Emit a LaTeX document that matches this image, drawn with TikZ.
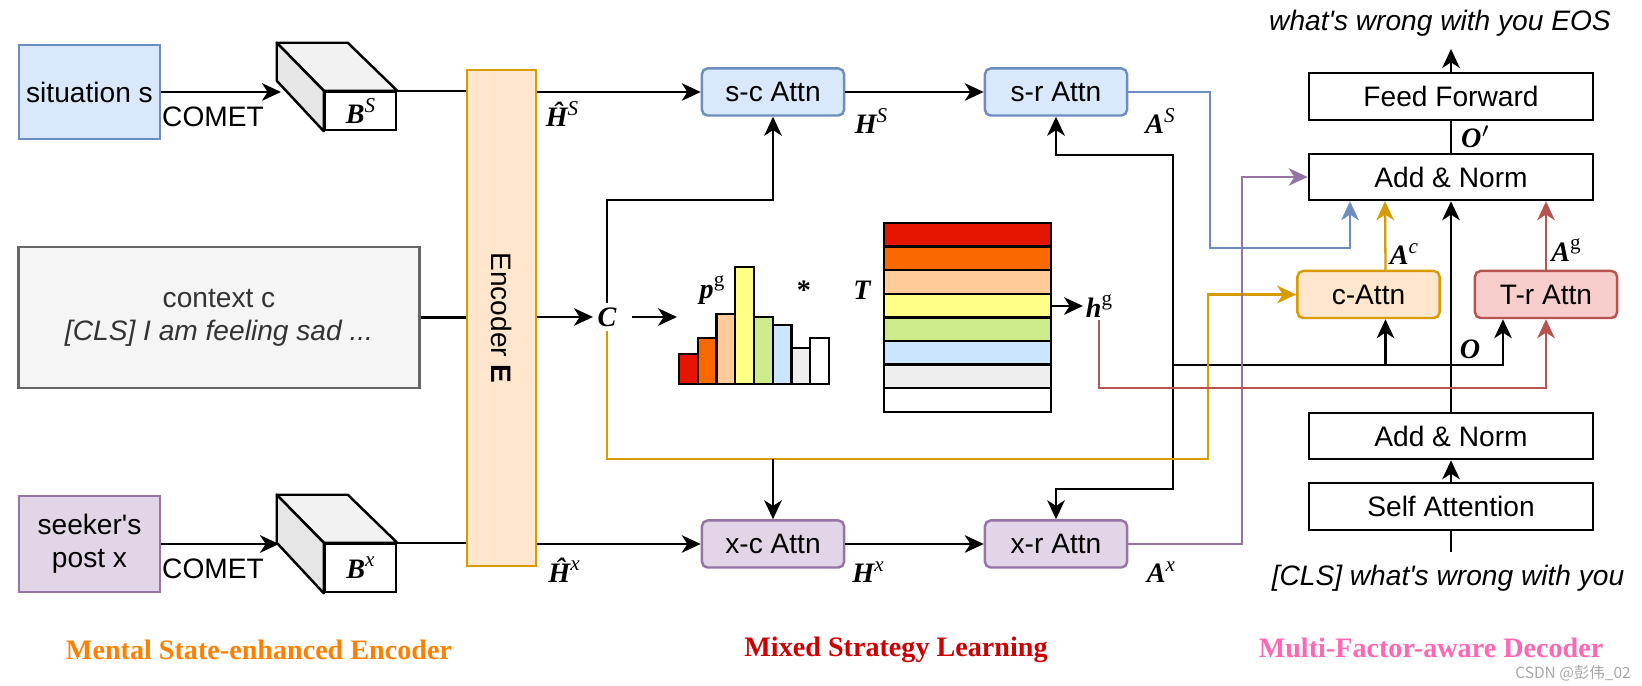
\documentclass[tikz,border=0pt]{standalone}
\usepackage{fontspec}
\setmainfont{Liberation Sans}
\newfontfamily\tnr{Liberation Serif}
\newfontfamily\cjk{Noto Sans CJK SC}
\usetikzlibrary{arrows.meta,calc}

\definecolor{bluF}{HTML}{DAE8FC}
\definecolor{bluD}{HTML}{6C8EBF}
\definecolor{purF}{HTML}{E1D5E7}
\definecolor{purD}{HTML}{9673A6}
\definecolor{orgF}{HTML}{FFE6CC}
\definecolor{orgD}{HTML}{D79B00}
\definecolor{redF}{HTML}{F8CECC}
\definecolor{redD}{HTML}{B85450}
\definecolor{gryF}{HTML}{F5F5F5}
\definecolor{gryD}{HTML}{666666}
\definecolor{gryT}{HTML}{333333}
\definecolor{cubT}{HTML}{F2F2F2}
\definecolor{cubL}{HTML}{E6E6E6}
\definecolor{stR}{HTML}{E51400}
\definecolor{stO}{HTML}{FA6800}
\definecolor{stP}{HTML}{FFCC99}
\definecolor{stY}{HTML}{FFFF88}
\definecolor{stG}{HTML}{CDEB8B}
\definecolor{stB}{HTML}{CCE5FF}
\definecolor{stW}{HTML}{EEEEEE}
\definecolor{ttlO}{HTML}{FF8000}
\definecolor{ttlR}{HTML}{CC0000}
\definecolor{ttlP}{HTML}{FF66B3}

% bold italic symbol with a superscript
\newcommand{\vlab}[2]{{\tnr\bfseries\itshape #1}{\tnr\itshape\raisebox{0.9ex}{\fontsize{6}{6}\selectfont #2}}}

\begin{document}
\begin{tikzpicture}[x=0.01cm,y=-0.01cm,line width=0.65pt,
  every node/.style={font=\fontsize{8}{9.4}\selectfont},
  >={Stealth[length=5.4pt,width=5pt,inset=1.6pt]},
  box/.style={draw,line width=0.7pt,inner sep=0pt,align=center},
  attn/.style={box,rounded corners=1.6pt,minimum width=1.42cm,minimum height=0.47cm},
  dec/.style={box,minimum width=2.84cm,minimum height=0.47cm},
  lbl/.style={inner sep=1pt}]

\useasboundingbox (0,0) rectangle (1642,686);

% inputs
\node[box,fill=bluF,draw=bluD,minimum width=1.41cm,minimum height=0.94cm] (sit) at (89.5,92) {situation s};
\node[box,fill=gryF,draw=gryD,text=gryT,minimum width=4.01cm,minimum height=1.41cm] (ctx) at (219,317.5) {context c\\\textit{[CLS] I am feeling sad ...}};
\node[box,fill=purF,draw=purD,minimum width=1.41cm,minimum height=0.96cm] (skr) at (89.5,544) {seeker\textquotesingle s\\post x};

% COMET cuboids
\node[box,fill=white,minimum width=0.71cm,minimum height=0.38cm] (cubS) at (360.5,111) {\vlab{B}{S}};
\filldraw[fill=cubT,line width=0.7pt,line join=round] (cubS.north west) -- ++(-47,-48) -- ++(71,0) -- (cubS.north east) -- cycle;
\filldraw[fill=cubL,line width=0.7pt,line join=round] (cubS.north west) -- ++(-47,-48) -- ++(0,38) -- (cubS.south west) -- cycle;
\node[box,fill=white,minimum width=0.71cm,minimum height=0.48cm] (cubX) at (360.5,568) {\vlab{B}{x}};
\filldraw[fill=cubT,line width=0.7pt,line join=round] (cubX.north west) -- ++(-47,-48) -- ++(71,0) -- (cubX.north east) -- cycle;
\filldraw[fill=cubL,line width=0.7pt,line join=round] (cubX.north west) -- ++(-47,-48) -- ++(0,48) -- (cubX.south west) -- cycle;

\coordinate (cubSin) at (281,92);
\coordinate (cubXin) at (279,544);
\draw[->] (sit.east) -- (cubSin);
\draw[->] (skr.east) -- (cubXin);
\node (cmtS) at (213,117) {COMET};
\node (cmtX) at (213,569) {COMET};

% encoder
\node[box,fill=orgF,draw=orgD,minimum width=0.69cm,minimum height=4.96cm] (enc) at (501.5,318) {};
\node[rotate=-90] (encT) at (enc.center) {Encoder \textbf{E}};
\draw (cubS.north east) -- (cubS.north east -| enc.west);
\draw (ctx.east) -- (ctx.east -| enc.west);
\draw (cubX.north east) -- (cubX.north east -| enc.west);

% attention blocks
\node[attn,fill=bluF,draw=bluD] (sc) at (773,92) {s-c Attn};
\node[attn,fill=bluF,draw=bluD] (sr) at (1056,92) {s-r Attn};
\node[attn,fill=purF,draw=purD] (xc) at (773,544) {x-c Attn};
\node[attn,fill=purF,draw=purD] (xr) at (1056,544) {x-r Attn};
\node[attn,fill=orgF,draw=orgD] (ca) at (1368.5,294.5) {c-Attn};
\node[attn,fill=redF,draw=redD] (tr) at (1546,294.5) {T-r Attn};

\draw[->] (enc.east |- sc.west) -- (sc.west);
\draw[->] (sc) -- (sr);
\draw[->] (enc.east |- xc.west) -- (xc.west);
\draw[->] (xc) -- (xr);

\node[lbl] (hS) at (562,114) {\vlab{\^H}{S}};
\node[lbl] (HS) at (871,121) {\vlab{H}{S}};
\node[lbl] (AS) at (1160,121) {\vlab{A}{S}};
\node[lbl] (hX) at (564,570) {\vlab{\^H}{x}};
\node[lbl] (HX) at (868,572) {\vlab{H}{x}};
\node[lbl] (AX) at (1161,572) {\vlab{A}{x}};

% context summary
\node[lbl] (C) at (607,317) {\tnr\bfseries\itshape C};
\draw[->] (enc.east |- C.west) -- (C.west);
\coordinate (cTurn) at (607,200);
\draw[->] (C.north) -- (cTurn) -| (sc.south);
\coordinate (hist) at (677,317);
\draw[->] ([xshift=3pt]C.east) -- (hist);

% strategy distribution
\foreach \hh/\cc [count=\i] in {30/stR,46/stO,70/stP,117/stY,67/stG,59/stB,36/stW,46/white}
  \filldraw[fill=\cc] ({679+(\i-1)*18.75},384) rectangle ++(18.75,-\hh);
\node[lbl] (pg) at (712,290) {\vlab{p}{\upshape g}};
\node[lbl] (star) at (804,290) {\tnr\bfseries *};
\node[lbl] (T) at (862,290) {\tnr\bfseries\itshape T};

% strategy table
\foreach \cc [count=\i] in {stR,stO,stP,stY,stG,stB,stW,white}
  \filldraw[fill=\cc] (884,{223+(\i-1)*23.6}) rectangle ++(167,23.6);
\node[inner sep=0,minimum width=1.67cm,minimum height=1.888cm] (tbl) at (967.5,317.4) {};
\node[lbl,anchor=west,inner sep=0.5pt] (hg) at (1083,306) {\vlab{h}{\upshape g}};
\draw[->] (hg.west -| tbl.east) -- (hg.west);

% decoder
\node[dec] (ff) at (1451,96.5) {Feed Forward};
\node[dec,minimum height=0.46cm] (an2) at (1451,177) {Add \& Norm};
\node[dec,minimum height=0.46cm] (an1) at (1451,436) {Add \& Norm};
\node[dec] (sa) at (1451,506.5) {Self Attention};
\node (outT) at (1440,23) {\itshape what\textquotesingle s wrong with you EOS};
\node (inT) at (1448,578) {\itshape [CLS] what\textquotesingle s wrong with you};
\draw[->] (ff.north) -- (ff.north |- outT.south);
\draw (an2.north) -- (ff.south);
\draw[->] (an1.north) -- (an2.south);
\draw[->] (sa.north) -- (an1.south);
\draw (sa.south) -- (sa.south |- inT.north);
\node[lbl] (Op) at (1476,137) {\tnr\bfseries\itshape O$'$};
\node[lbl] (Ol) at (1470,349) {\tnr\bfseries\itshape O};
\node[lbl] (Ac) at (1404,254) {\vlab{A}{c}};
\node[lbl] (Ag) at (1566,250) {\vlab{A}{\upshape g}};

% decoder state fed back
\coordinate (oL) at (1173,365);
\draw (an1.north |- oL) -- (oL);
\draw[->] (oL) -| ($(ca.south)+(17,0)$);
\draw[->] (oL) -| ($(tr.south)+(-43,0)$);
\draw[->] (oL) |- ($(sr.south)+(0,38)$) -- (sr.south);
\draw[->] (oL) |- ($(xr.north)+(0,-30)$) -- (xr.north);

% coloured connectors
\coordinate (oLow) at (1208,459);
\draw[orgD,->] (C.south) |- (oLow) |- (ca.west);
\draw[->] (xc.north |- oLow) -- (xc.north);
\draw[bluD,->] (sr.east) -- ++(82,0) |- ($(an2.south)+(-101,47)$) -- ($(an2.south)+(-101,0)$);
\draw[purD,->] (xr.east) -| ($(an2.west)+(-66,0)$) -- (an2.west);
\draw[orgD,->] ($(ca.north)+(17,0)$) -- ($(an2.south)+(-66,0)$);
\draw[redD,->] (tr.north) -- (tr.north |- an2.south);
\coordinate (rLow) at (1100,388);
\draw[redD,->] (hg.south) -- (hg.south |- rLow) -| (tr.south);

% titles
\node[text=ttlO] (t1) at (259,650) {\tnr\bfseries Mental State-enhanced Encoder};
\node[text=ttlR] (t2) at (896,650) {\tnr\bfseries Mixed Strategy Learning};
\node[text=ttlP] (t3) at (1431,648) {\tnr\bfseries Multi-Factor-aware Decoder};
\node[text=gray!70,inner sep=0pt] (wm) at (1573,673) {\fontsize{4.4}{5}\selectfont\cjk CSDN @彭伟\_02};
\end{tikzpicture}
\end{document}
